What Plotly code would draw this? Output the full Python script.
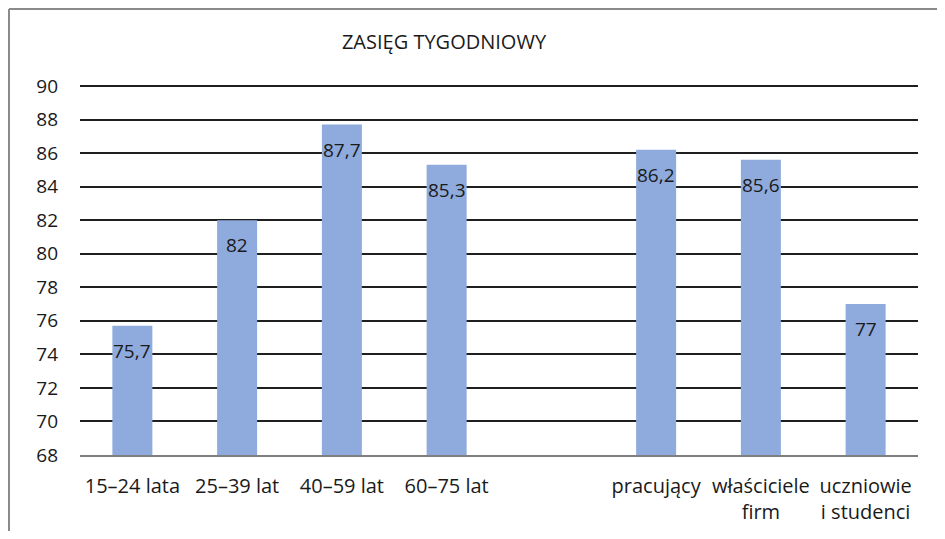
import plotly.graph_objects as go

categories = ["15–24 lata", "25–39 lat", "40–59 lat", "60–75 lat", " ",
              "pracujący", "właściciele<br>firm", "uczniowie<br>i studenci"]
values = [75.7, 82, 87.7, 85.3, None, 86.2, 85.6, 77]
y_ticks = list(range(68, 91, 2))
title_text = "ZASIĘG TYGODNIOWY"

FONT = "Open Sans"
TXT = "#1a1a1a"

# page has an 8px body margin; figure is sized/placed to compensate
OFF = 8
W, H = 945 - 2 * OFF, 539 - 2 * OFF
L, T = 80 - OFF, 84 - OFF
R = W - (918 - OFF)
B = H - (455 - OFF)
pw, ph = W - L - R, H - T - B


def px(x):
    return (x - OFF - L) / pw


def py(y):
    return 1 - (y - OFF - T) / ph


fig = go.Figure()
fig.add_trace(go.Bar(
    x=categories, y=values,
    marker=dict(color="#8FAADC", line=dict(width=0)),
    hoverinfo="skip",
))

for c, v in zip(categories, values):
    if v is None:
        continue
    label = (f"{v:g}").replace(".", ",")
    fig.add_annotation(x=c, y=v, text=label, showarrow=False,
                       yanchor="middle", yshift=-25,
                       font=dict(family=FONT, size=19, color=TXT))

# outer frame (only top and left edges visible in reference)
frame = dict(color="#8a8a8a", width=2)
fig.add_shape(type="line", xref="paper", yref="paper",
              x0=px(OFF + 1), x1=px(OFF + W), y0=py(OFF + 1), y1=py(OFF + 1),
              line=frame, layer="below")
fig.add_shape(type="line", xref="paper", yref="paper",
              x0=px(OFF + 1), x1=px(OFF + 1), y0=py(OFF + H), y1=py(OFF + 1),
              line=frame, layer="below")

fig.update_layout(
    width=W, height=H,
    margin=dict(l=L, r=R, t=T, b=B, pad=0, autoexpand=False),
    paper_bgcolor="white", plot_bgcolor="white",
    bargap=0.618,
    showlegend=False,
    font=dict(family=FONT, size=20, color=TXT),
    title=dict(text=title_text, x=px(444), xref="paper", xanchor="center",
               y=1 - (42 - OFF) / H, yref="container", yanchor="middle",
               font=dict(family=FONT, size=20, color=TXT)),
    xaxis=dict(type="category", showgrid=False, tickangle=0, automargin=False,
               showline=True, linecolor="#7f7f7f", linewidth=2,
               ticks="", ticklabelstandoff=12,
               tickfont=dict(family=FONT, size=20, color=TXT)),
    yaxis=dict(range=[68, 90.12], tickvals=y_ticks, showgrid=True,
               automargin=False,
               gridcolor="#1f1f1f", gridwidth=1.5, zeroline=False,
               showline=False, ticks="", ticklabelstandoff=21,
               tickfont=dict(family=FONT, size=19, color=TXT)),
)

fig.write_html("out.html")
